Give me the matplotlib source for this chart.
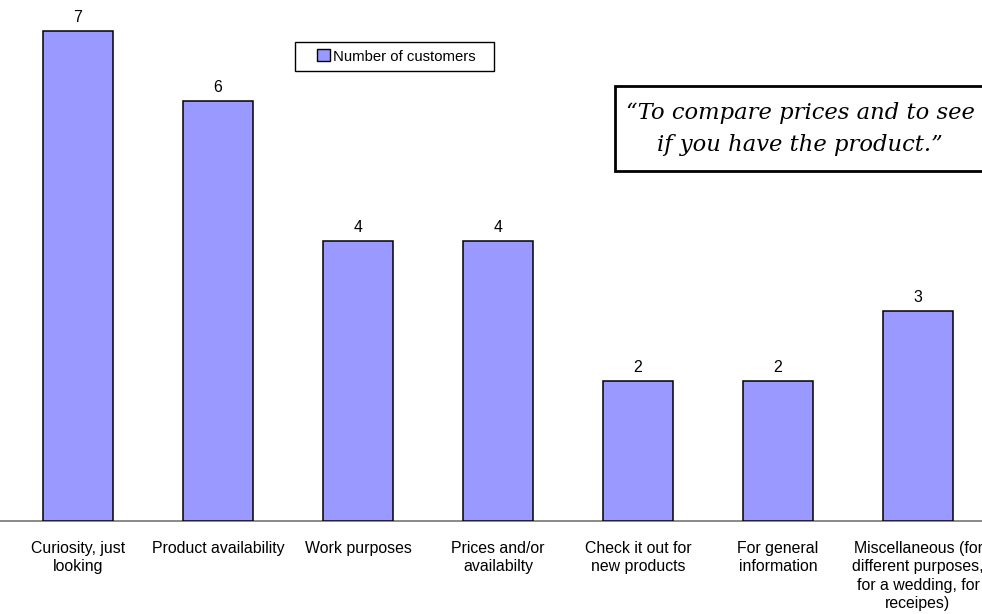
import matplotlib.pyplot as plt
from matplotlib.patches import Rectangle

categories = [
    'Curiosity, just\nlooking',
    'Product availability',
    'Work purposes',
    'Prices and/or\navailabilty',
    'Check it out for\nnew products',
    'For general\ninformation',
    'Miscellaneous (for\ndifferent purposes,\nfor a wedding, for\nreceipes)',
]
customers = [7, 6, 4, 4, 2, 2, 3]
quote = '\u201cTo compare prices and to see\nif you have the product.\u201d'

plt.rcParams['font.family'] = ['Liberation Sans', 'DejaVu Sans']

W, H = 982, 614
fig = plt.figure(figsize=(W / 100, H / 100), dpi=100)
# axes run a little past the right edge, like the original
ax = fig.add_axes([8 / W, (H - 521) / H, 980 / W, 521 / H])

x = range(len(categories))
ax.bar(x, customers, width=0.5, color='#9999ff', edgecolor='black',
       linewidth=1.1, label='Number of customers', zorder=3)
for xi, v in zip(x, customers):
    ax.text(xi, v + 9 / 70, str(v), ha='center', va='baseline', fontsize=11.4)

ax.set_xlim(-0.5, 6.5)
ax.set_ylim(0, 521 / 70)
ax.set_xticks(list(x))
ax.set_xticklabels(categories, fontsize=11.4, linespacing=1.28)
ax.tick_params(axis='x', length=0, pad=14.5)
ax.set_yticks([])
for s in ['top', 'right', 'left']:
    ax.spines[s].set_visible(False)
ax.spines['bottom'].set_color('#808080')
ax.spines['bottom'].set_linewidth(1.3)
ax.spines['bottom'].set_bounds(-0.6, 6.6)

leg = ax.legend(loc='center left', bbox_to_anchor=(303 / 980, 1 - 56.5 / 521),
                fontsize=10.7, frameon=False, handlelength=0.85,
                handleheight=0.85, handletextpad=0.2, borderpad=0.4,
                borderaxespad=0)
for h in leg.legend_handles:
    h.set_linewidth(1.0)

# legend frame
fig.patches.append(Rectangle((295 / W, 1 - 71 / H), 199 / W, 29 / H,
                             transform=fig.transFigure, facecolor='none',
                             edgecolor='black', linewidth=1.0, zorder=5))

# quote box, runs off the right edge
fig.patches.append(Rectangle((615 / W, 1 - 171 / H), 400 / W, 85 / H,
                             transform=fig.transFigure, facecolor='white',
                             edgecolor='black', linewidth=2, zorder=5))
fig.text(800 / W, 1 - 129 / H, quote, ha='center', va='center',
         fontsize=16.3, style='italic', family='DejaVu Serif',
         linespacing=1.55, zorder=6)

fig.savefig('out.png', dpi=100)
